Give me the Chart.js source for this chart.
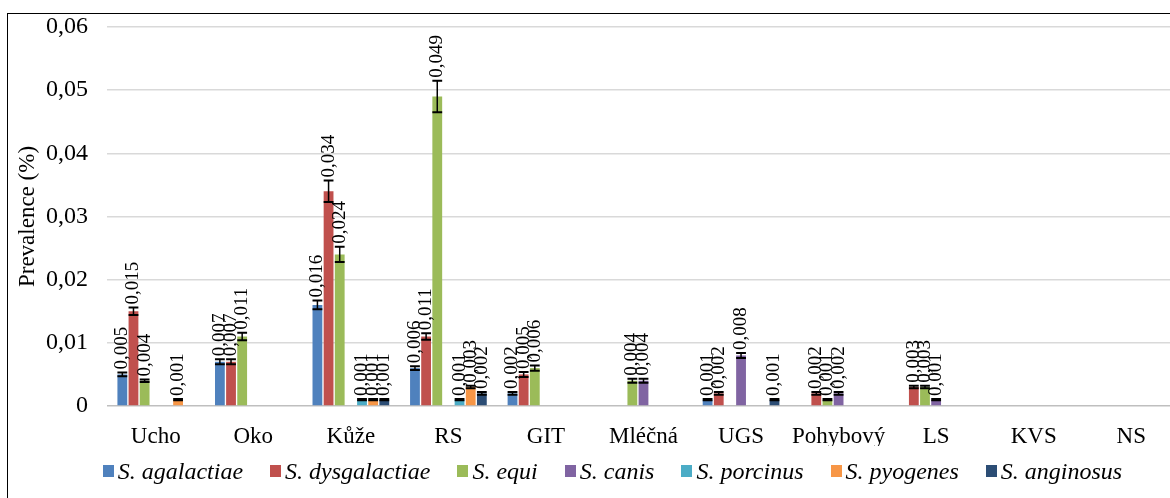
<!DOCTYPE html>
<html>
<head>
<meta charset="utf-8">
<script src="https://cdn.jsdelivr.net/npm/chart.js@4"></script>
<style>
  body { margin: 0; overflow: hidden; background: #fff; }
  #wrap { position: relative; width: 1170px; height: 498px; overflow: hidden; }
  #box { position: absolute; left: 0; top: 0; width: 1182px; height: 498px; }
  #frame { position: absolute; left: 7px; top: 13px; width: 1300px; height: 600px; border: 1px solid #000; pointer-events: none; }
  #legend { position: absolute; left: 0; top: 457px; width: 1225px; display: flex; justify-content: center;
            font: italic 24px "Liberation Serif", serif; line-height: 28px; color: #000; }
  .item { display: flex; align-items: center; margin: 0 13.5px; white-space: nowrap; }
  .swatch { width: 11px; height: 12px; margin-right: 4px; }
</style>
</head>
<body>
<div id="wrap">
  <div id="box"><canvas id="chart"></canvas></div>
  <div id="legend"></div>
  <div id="frame"></div>
</div>
<script>
const categories = ["Ucho", "Oko", "Kůže", "RS", "GIT", "Mléčná", "UGS", "Pohybový", "LS", "KVS", "NS"];
const seriesNames = ["S. agalactiae", "S. dysgalactiae", "S. equi", "S. canis", "S. porcinus", "S. pyogenes", "S. anginosus"];
const seriesColors = ["#4F81BD", "#C0504D", "#9BBB59", "#8064A2", "#4BACC6", "#F79646", "#2C4D75"];
const yTicks = [0, 0.01, 0.02, 0.03, 0.04, 0.05, 0.06];

// prevalence per body system
const agalactiae   = [0.005, 0.007, 0.016, 0.006, 0.002, 0, 0.001, 0, 0, 0, 0];
const dysgalactiae = [0.015, 0.007, 0.034, 0.011, 0.005, 0, 0.002, 0.002, 0.003, 0, 0];
const equi         = [0.004, 0.011, 0.024, 0.049, 0.006, 0.004, 0, 0.001, 0.003, 0, 0];
const canis        = [0, 0, 0, 0, 0, 0.004, 0.008, 0.002, 0.001, 0, 0];
const porcinus     = [0, 0, 0.001, 0.001, 0, 0, 0, 0, 0, 0, 0];
const pyogenes     = [0.001, 0, 0.001, 0.003, 0, 0, 0, 0, 0, 0, 0];
const anginosus    = [0, 0, 0.001, 0.002, 0, 0, 0.001, 0, 0, 0, 0];

// error bar half-widths
const agalactiaeErr   = [0.0003, 0.0004, 0.0007, 0.0003, 0.0002, 0, 0.0001, 0, 0, 0, 0];
const dysgalactiaeErr = [0.0006, 0.0004, 0.0017, 0.0005, 0.0004, 0, 0.0002, 0.0002, 0.0002, 0, 0];
const equiErr         = [0.0002, 0.0006, 0.0012, 0.0025, 0.0004, 0.0003, 0, 0.0001, 0.0002, 0, 0];
const canisErr        = [0, 0, 0, 0, 0, 0.0003, 0.0004, 0.0002, 0.0001, 0, 0];
const porcinusErr     = [0, 0, 0.0001, 0.0001, 0, 0, 0, 0, 0, 0, 0];
const pyogenesErr     = [0.0001, 0, 0.0001, 0.0002, 0, 0, 0, 0, 0, 0, 0];
const anginosusErr    = [0, 0, 0.0001, 0.0002, 0, 0, 0.0001, 0, 0, 0, 0];

const allValues = [agalactiae, dysgalactiae, equi, canis, porcinus, pyogenes, anginosus];
const allErrors = [agalactiaeErr, dysgalactiaeErr, equiErr, canisErr, porcinusErr, pyogenesErr, anginosusErr];

const FONT = "'Liberation Serif', 'Times New Roman', serif";
const fmt = (v) => v.toFixed(3).replace(".", ",");

// error bars + rotated value labels on top of each bar
const barExtras = {
  id: "barExtras",
  afterDatasetsDraw(chart) {
    const ctx = chart.ctx;
    const y = chart.scales.y;
    chart.data.datasets.forEach((ds, di) => {
      const meta = chart.getDatasetMeta(di);
      meta.data.forEach((bar, i) => {
        const v = ds.data[i];
        if (!v) return;
        const e = ds.errors[i];
        const top = y.getPixelForValue(v + e);
        const bottom = y.getPixelForValue(Math.max(0, v - e));
        const half = bar.width / 2;
        ctx.save();
        ctx.strokeStyle = "#000";
        ctx.lineWidth = 1.5;
        ctx.beginPath();
        ctx.moveTo(bar.x, top);
        ctx.lineTo(bar.x, bottom);
        ctx.stroke();
        ctx.lineWidth = 2;
        ctx.beginPath();
        ctx.moveTo(bar.x - half, top);
        ctx.lineTo(bar.x + half, top);
        ctx.moveTo(bar.x - half, bottom);
        ctx.lineTo(bar.x + half, bottom);
        ctx.stroke();

        ctx.translate(bar.x, top - 3);
        ctx.rotate(-Math.PI / 2);
        ctx.fillStyle = "#000";
        ctx.font = "19px " + FONT;
        ctx.textAlign = "left";
        ctx.textBaseline = "middle";
        ctx.fillText(fmt(v), 0, 0);
        ctx.restore();
      });
    });
  },
};

const datasets = seriesNames.map((name, k) => ({
  label: name,
  data: allValues[k],
  errors: allErrors[k],
  backgroundColor: seriesColors[k],
  borderWidth: 0,
  categoryPercentage: 0.8,
  barPercentage: 0.88,
}));

new Chart(document.getElementById("chart"), {
  type: "bar",
  data: { labels: categories, datasets },
  plugins: [barExtras],
  options: {
    responsive: true,
    maintainAspectRatio: false,
    animation: false,
    layout: { padding: { left: 10, right: 2, top: 27, bottom: 52 } },
    plugins: { legend: { display: false }, tooltip: { enabled: false } },
    scales: {
      x: {
        grid: { display: false },
        border: { display: false },
        ticks: { color: "#000", font: { family: FONT, size: 23 }, padding: 9, maxRotation: 0 },
        afterFit: (s) => { s.height = 40; },
      },
      y: {
        min: 0,
        max: 0.06,
        afterBuildTicks: (s) => { s.ticks = yTicks.map((v) => ({ value: v })); },
        grid: {
          drawTicks: false,
          lineWidth: 1.5,
          color: (c) => (c.tick && c.tick.value === 0 ? "#bfbfbf" : "#d9d9d9"),
        },
        border: { display: false },
        ticks: {
          color: "#000",
          // small lineHeight keeps the top label from pushing the plot area down
          font: { family: FONT, size: 24, lineHeight: 0.5 },
          padding: 19,
          callback: (v) => (v === 0 ? "0" : v.toFixed(2).replace(".", ",")),
        },
        title: {
          display: true,
          text: "Prevalence (%)",
          color: "#000",
          font: { family: FONT, size: 23 },
          padding: { top: 4, bottom: 0 },
        },
        afterFit: (s) => { s.width = 97; },
      },
    },
  },
});

document.getElementById("legend").innerHTML = seriesNames
  .map((name, k) => `<span class="item"><span class="swatch" style="background:${seriesColors[k]}"></span>${name}</span>`)
  .join("");
</script>
</body>
</html>
